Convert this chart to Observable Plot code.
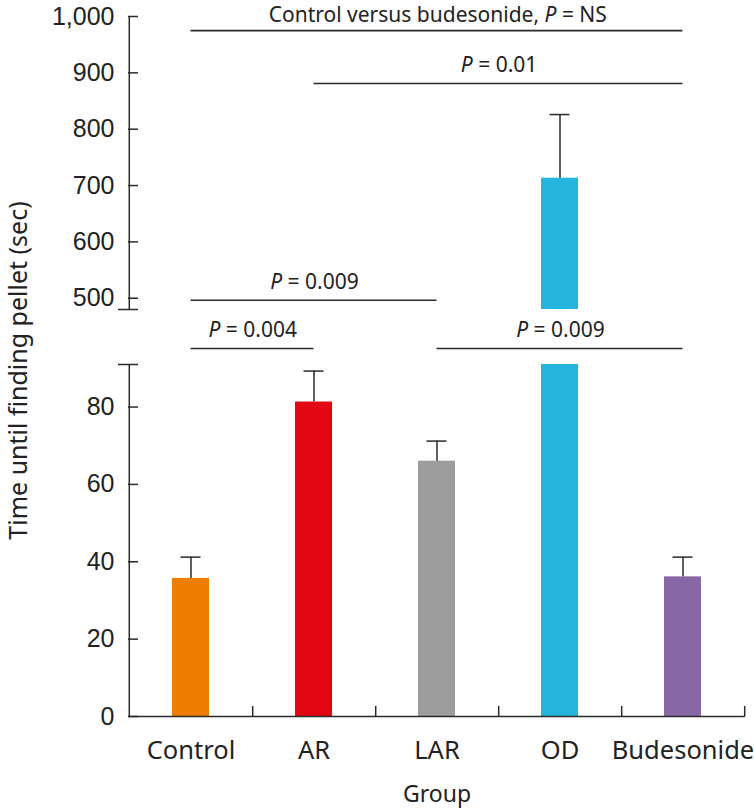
<!DOCTYPE html>
<html>
<head>
<meta charset="utf-8">
<script src="https://cdn.jsdelivr.net/npm/d3@7"></script>
<script src="https://cdn.jsdelivr.net/npm/@observablehq/plot@0.6"></script>
<style>
  html, body { margin: 0; padding: 0; background: #fff; }
  #chart { width: 754px; height: 809px; }
</style>
</head>
<body>
<div id="chart"></div>
<script>
// ---- data ----
const groups = ["Control", "AR", "LAR", "OD", "Budesonide"];
const means = [35.7, 81.3, 66.0, 713, 36.1];
const errors = [5.5, 8.0, 5.2, 113, 5.1];
const barColors = ["#EF7D00", "#E30613", "#9D9D9D", "#23B5DC", "#8767A6"];
const lowerTicks = [0, 20, 40, 60, 80];
const upperTicks = [500, 600, 700, 800, 900, 1000];
const lowerSegment = [0, 91];      // y range shown below the break
const upperSegment = [480, 1000];  // y range shown above the break
const compFrom = ["Control", "AR", "Control", "Control", "LAR"];
const compTo = ["Budesonide", "Budesonide", "LAR", "AR", "Budesonide"];
const compY = [975, 881, 496.5, 204, 204];
const compLabels = ["Control versus budesonide, P = NS", "P = 0.01", "P = 0.009", "P = 0.004", "P = 0.009"];
const yLabel = "Time until finding pellet (sec)";
const xLabel = "Group";

// ---- layout ----
const W = 754, H = 809, ML = 128, MR = 9, MT = 16, MB = 93;
const gapPx = 55, upperPx = 293;
const frameW = W - ML - MR;
const step = frameW / groups.length;
const padInner = 0.7;
const bandW = step * (1 - padInner);
const yBottom = H - MB;
const yRange = [yBottom, MT + upperPx + gapPx, MT + upperPx, MT];

const rows = groups.map((g, i) => ({group: g, mean: means[i], err: errors[i]}));
const comps = compFrom.map((f, i) => ({from: f, to: compTo[i], y: compY[i], label: compLabels[i]}));
const ink = "#2a2a2a";

const labelMarks = comps.map((c, i) => Plot.text([c], {
  x: d => d.from, y: "y", text: "label",
  dx: (groups.indexOf(c.to) - groups.indexOf(c.from)) * step / 2,
  dy: i === 0 ? -15 : -18, lineAnchor: "middle", textAnchor: "middle", fontSize: 21, fill: "#222"
}));

const chart = Plot.plot({
  width: W, height: H,
  marginLeft: ML, marginRight: MR, marginTop: MT, marginBottom: MB,
  style: {fontFamily: "'Noto Sans', sans-serif", color: "#222", background: "#fff", overflow: "visible"},
  x: {type: "band", domain: groups, paddingInner: padInner, paddingOuter: padInner / 2},
  y: {type: "linear", domain: [lowerSegment[0], lowerSegment[1], upperSegment[0], upperSegment[1]], range: yRange},
  color: {domain: groups, range: barColors},
  marks: [
    // bars: lower piece and upper piece (broken axis)
    Plot.barY(rows, {x: "group", y1: lowerSegment[0], y2: d => Math.min(d.mean, lowerSegment[1]), fill: "group"}),
    Plot.barY(rows.filter(d => d.mean > upperSegment[0]), {x: "group", y1: upperSegment[0], y2: "mean", fill: "group"}),
    // error bars
    Plot.ruleX(rows, {x: "group", y1: "mean", y2: d => d.mean + d.err, stroke: ink, strokeWidth: 1.5}),
    Plot.tickY(rows, {x: "group", y: d => d.mean + d.err, insetLeft: 8.5, insetRight: 8.5, stroke: ink, strokeWidth: 1.5}),
    // y axis lines (two segments)
    Plot.ruleX([groups[0]], {x: d => d, dx: -step / 2, y1: lowerSegment[0], y2: lowerSegment[1], stroke: ink, strokeWidth: 1.5}),
    Plot.ruleX([groups[0]], {x: d => d, dx: -step / 2, y1: upperSegment[0], y2: upperSegment[1], stroke: ink, strokeWidth: 1.5}),
    // inward y ticks
    Plot.ruleY([...lowerTicks, ...upperTicks], {y: d => d, insetRight: frameW - 10, stroke: ink, strokeWidth: 1.5}),
    // break caps
    Plot.ruleY([lowerSegment[1], upperSegment[0]], {y: d => d, dx: -10, insetRight: frameW - 20, stroke: ink, strokeWidth: 1.5}),
    // x axis line and inward ticks at band boundaries
    Plot.ruleY([0], {stroke: ink, strokeWidth: 1.5}),
    Plot.ruleX(groups, {x: d => d, dx: step / 2, y1: 0, y2: 2.6, stroke: ink, strokeWidth: 1.5}),
    // axes labels
    Plot.axisY([...lowerTicks, ...upperTicks], {tickSize: 0, tickPadding: 14, tickFormat: d3.format(","), fontSize: 25, fontFamily: "'Liberation Sans', Arial, sans-serif", fill: "#222", label: null}),
    Plot.axisX({tickSize: 0, tickPadding: 24, fontSize: 25.5, fill: "#222", label: null}),
    Plot.text([yLabel], {frameAnchor: "left", rotate: -90, dx: -109.5, dy: 4, textAnchor: "middle", lineAnchor: "middle", fontSize: 25, fill: "#222"}),
    Plot.text([xLabel], {frameAnchor: "bottom", dy: 78, textAnchor: "middle", lineAnchor: "middle", fontSize: 23, fill: "#222"}),
    // comparison brackets (band centre to band centre)
    Plot.ruleY(comps, {y: "y", x1: "from", x2: "to", insetLeft: bandW / 2, insetRight: bandW / 2, stroke: ink, strokeWidth: 1.6}),
    ...labelMarks
  ]
});

// italic "P" in the comparison labels
d3.select(chart).selectAll("text").each(function() {
  const t = this.textContent;
  const k = t.indexOf("P = ");
  if (k < 0 || this.querySelector("tspan")) return;
  this.textContent = "";
  if (k > 0) this.appendChild(document.createTextNode(t.slice(0, k)));
  const ts = document.createElementNS("http://www.w3.org/2000/svg", "tspan");
  ts.setAttribute("font-style", "italic");
  ts.textContent = "P";
  this.appendChild(ts);
  this.appendChild(document.createTextNode(t.slice(k + 1)));
});

document.getElementById("chart").appendChild(chart);
</script>
</body>
</html>
